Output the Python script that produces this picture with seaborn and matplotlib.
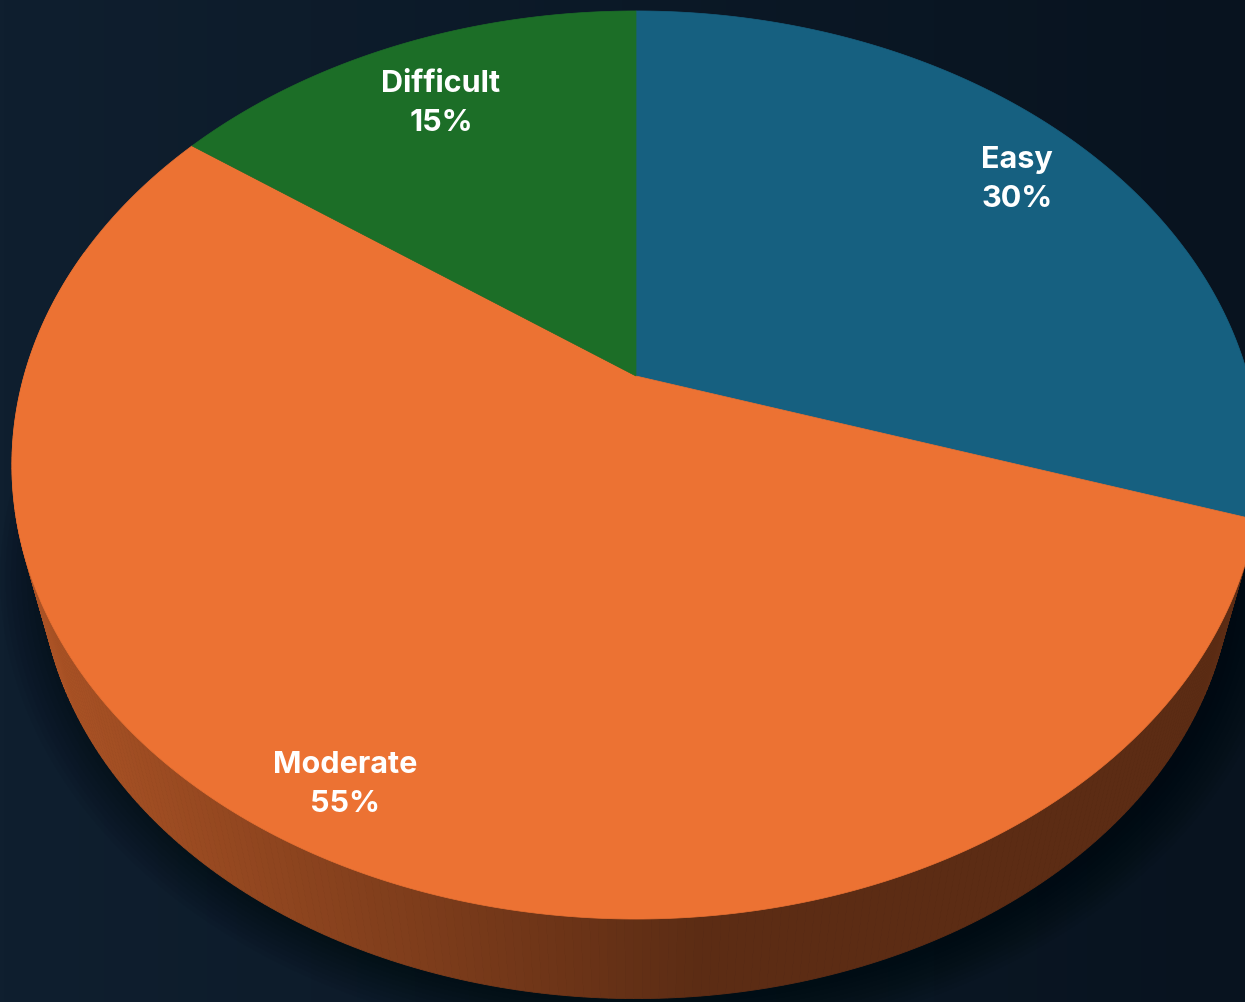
import numpy as np
import matplotlib
matplotlib.use("Agg")
import matplotlib.pyplot as plt
import seaborn as sns
from matplotlib.patches import Polygon

categories = ["Easy", "Moderate", "Difficult"]
shares = [30, 55, 15]
label_radius = [0.845, 0.885, 0.80]

sns.set_theme(style="white")
plt.rcParams['font.family'] = ['Inter', 'DejaVu Sans']
palette = sns.color_palette(["#166080", "#EC7233", "#1C6E27"])

W, H = 1245, 1003
# perspective projection of a tilted disc (pixel space)
CX, CY = 636, 377
S, C, K = 612, 436.6, 0.196
F, D = 0.955, 104


def top(u, v):
    d = 1 + K * v
    return CX + S * u / d, CY - C * v / d


def bottom(u, v):
    x, y = top(u, v)
    return CX + F * (x - CX), CY + D + F * (y - CY)


fig = plt.figure(figsize=(W / 100, H / 100), dpi=100)
ax = fig.add_axes([0, 0, 1, 1])
ax.set_xlim(0, W)
ax.set_ylim(H, 0)
ax.axis("off")

# background gradient
left = np.array([15, 31, 47]) / 255
right = np.array([8, 19, 31]) / 255
t = np.linspace(0, 1, 300)[None, :, None]
bg = left * (1 - t) + right * t
bg = np.repeat(bg, 2, axis=0)
ax.imshow(bg, extent=[0, W, H, 0], aspect="auto", zorder=0)

# soft shadow under the pie
th = np.linspace(0, 2 * np.pi, 400)
for grow in np.linspace(1.08, 1.0, 10):
    xs, ys = [], []
    for a in th:
        x, y = bottom(np.cos(a), np.sin(a))
        xs.append(CX + grow * (x - CX) + 8)
        ys.append(CY + D + grow * (y - CY - D) + 6)
    ax.add_patch(Polygon(np.column_stack([xs, ys]), closed=True,
                         facecolor="black", edgecolor="none", alpha=0.04, zorder=1))

# wedge angles, clockwise from top
starts = 90 - 360 * np.concatenate([[0], np.cumsum(shares)[:-1]]) / 100
ends = starts - 360 * np.array(shares) / 100

# side walls
for col, a0, a1 in zip(palette, starts, ends):
    angs = np.radians(np.linspace(a0, a1, 300))
    for i in range(len(angs) - 1):
        p, q = angs[i], angs[i + 1]
        if np.sin(p) > 0.3 and np.sin(q) > 0.3:
            continue
        t0 = top(np.cos(p), np.sin(p))
        t1 = top(np.cos(q), np.sin(q))
        b1 = bottom(np.cos(q), np.sin(q))
        b0 = bottom(np.cos(p), np.sin(p))
        xm = (t0[0] + t1[0]) / 2
        k = np.clip((xm - 40) / 660, 0, 1)
        shade = 0.72 * (1 - k) + 0.39 * k
        c = tuple(np.array(col) * shade)
        ax.add_patch(Polygon([t0, t1, b1, b0], closed=True, facecolor=c,
                             edgecolor=c, linewidth=0.6, zorder=2))

# top faces
for col, a0, a1 in zip(palette, starts, ends):
    angs = np.radians(np.linspace(a0, a1, 400))
    pts = [top(0, 0)] + [top(np.cos(a), np.sin(a)) for a in angs]
    ax.add_patch(Polygon(pts, closed=True, facecolor=col, edgecolor=col,
                         linewidth=0.5, zorder=3))

# labels
for name, share, a0, a1, r in zip(categories, shares, starts, ends, label_radius):
    m = np.radians((a0 + a1) / 2)
    x, y = top(r * np.cos(m), r * np.sin(m))
    ax.text(x, y, f"{name}\n{share}%", color="white", fontsize=22,
            fontweight="bold", ha="center", va="center", linespacing=1.5, zorder=4)

fig.savefig("out.png", dpi=100)
